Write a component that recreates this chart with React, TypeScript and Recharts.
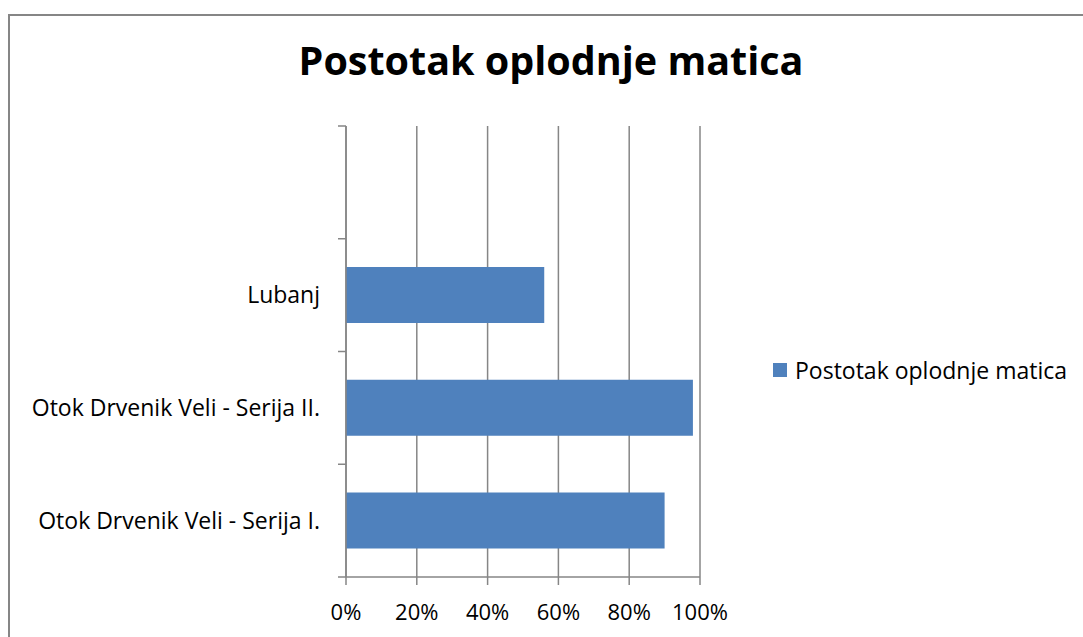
import React from 'react';
import { BarChart, Bar, XAxis, YAxis, CartesianGrid, Legend } from 'recharts';

// categories top to bottom (first band is empty in the original)
const categories = ['', 'Lubanj', 'Otok Drvenik Veli - Serija II.', 'Otok Drvenik Veli - Serija I.'];
const fertilization = [null, 0.56, 0.98, 0.9];
const percentTicks = [0, 0.2, 0.4, 0.6, 0.8, 1];

const SERIES = 'Postotak oplodnje matica';
const BLUE = '#4F81BD';
const GREY = '#868686';
const FONT = '"Open Sans", sans-serif';

const CHART_W = 1083;
const CHART_H = 637;
const MARGIN = { top: 126, right: 383, bottom: 20, left: 8 };
const X_AXIS_H = 40;
const TICK_LEN = 8;
const LABEL_GAP = 18;

const data = categories.map((name, i) => ({ name, value: fertilization[i] }));

// Excel-style category axis: labels centred in the band, tick marks on band edges
const CategoryTick = (props: any) => {
  const { x, y, payload, index } = props;
  const plotH = CHART_H - MARGIN.top - MARGIN.bottom - X_AXIS_H;
  const half = payload?.offset || plotH / categories.length / 2;
  const x1 = x + LABEL_GAP;
  const x2 = x1 + TICK_LEN;
  return (
    <g>
      {index === 0 && <line x1={x1} x2={x2} y1={y - half} y2={y - half} stroke={GREY} strokeWidth={1.5} />}
      <line x1={x1} x2={x2} y1={y + half} y2={y + half} stroke={GREY} strokeWidth={1.5} />
      <text x={x} y={y} dy="0.355em" textAnchor="end" fill="#000" fontSize={23} fontFamily={FONT}>
        {payload.value}
      </text>
    </g>
  );
};

const LegendBox = () => (
  <div style={{ display: 'flex', alignItems: 'center', fontFamily: FONT, fontSize: 23, color: '#000', whiteSpace: 'nowrap' }}>
    <span style={{ width: 14, height: 14, background: BLUE, marginRight: 8, display: 'inline-block' }} />
    {SERIES}
  </div>
);

export default function App() {
  return (
    <div style={{ position: 'absolute', left: 0, top: 0, width: CHART_W, height: CHART_H, background: '#fff', overflow: 'hidden' }}>
      <div style={{
        position: 'absolute', left: 8, top: 14, width: 1075, height: 623, boxSizing: 'border-box',
        borderTop: `2px solid ${GREY}`, borderLeft: `2px solid ${GREY}`,
      }} />
      <div style={{
        position: 'absolute', left: 0, width: 1102, top: 40, textAlign: 'center',
        fontFamily: FONT, fontWeight: 700, fontSize: 39.5, lineHeight: '40px', color: '#000',
      }}>
        {SERIES}
      </div>
      <div style={{ position: 'absolute', left: 0, top: 0 }}>
        <BarChart
          width={CHART_W}
          height={CHART_H}
          data={data}
          layout="vertical"
          margin={MARGIN}
          barCategoryGap="25%"
        >
          <CartesianGrid horizontal={false} stroke={GREY} strokeWidth={1.5} />
          <XAxis
            type="number"
            domain={[0, 1]}
            ticks={percentTicks}
            tickFormatter={(v: number) => `${Math.round(v * 100)}%`}
            stroke={GREY}
            strokeWidth={1.5}
            tickSize={TICK_LEN}
            tickMargin={19}
            height={X_AXIS_H}
            tick={{ fill: '#000', fontSize: 22, fontFamily: FONT }}
          />
          <YAxis
            type="category"
            dataKey="name"
            width={338}
            stroke={GREY}
            strokeWidth={1.5}
            tickLine={false}
            tickSize={TICK_LEN}
            tickMargin={LABEL_GAP}
            interval={0}
            tick={<CategoryTick />}
          />
          <Legend
            layout="horizontal"
            align="center"
            verticalAlign="middle"
            content={() => <LegendBox />}
            wrapperStyle={{ left: 773, top: 354, width: 'auto' }}
          />
          <Bar dataKey="value" name={SERIES} fill={BLUE} isAnimationActive={false} />
        </BarChart>
      </div>
    </div>
  );
}
